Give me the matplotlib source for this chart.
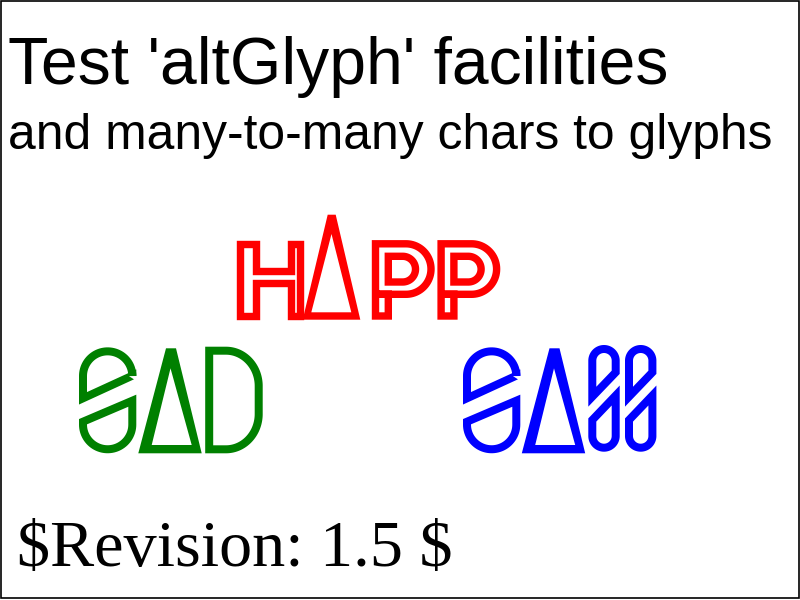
import numpy as np
import matplotlib.pyplot as plt
from matplotlib.path import Path
from matplotlib.patches import PathPatch, Rectangle

# canvas is 800x600 px, axes use pixel units (y down)
W, H = 800, 600

title = "Test 'altGlyph' facilities"
subtitle = "and many-to-many chars to glyphs"
revision = "$Revision: 1.5 $"

red = '#ff0000'
green = '#008000'
blue = '#0000ff'

# --- glyph outlines (pixel coords) ---
# 'H' stroked outline
h_outline = [(240, 243.7), (255.7, 243.7), (255.7, 271.3), (290.7, 271.3),
             (290.7, 243.7), (300.3, 243.7), (300.3, 316), (290.7, 316),
             (290.7, 283), (255.7, 283), (255.7, 316), (240, 316)]
# 'P': stem + bowl, bowl given as (cx, cy, rx, ry)
p_outer_stem = [(375.5, 294.3), (388.3, 294.3), (388.3, 316), (375.5, 316), (375.5, 243.8)]
p_outer_bowl = (406, 269.05, 25, 25.25)
p_counter_stem = [(402.7, 282), (388.3, 282), (388.3, 256.3)]
p_counter_bowl = (402.7, 269.15, 12.8, 12.85)
p_shift = [0, 65.6]

# red 'A' (delta) outer / inner contours
a_red_outer = [(302.7, 319.7), (327.7, 214.7), (335.7, 214.7), (360.3, 319.7)]
a_red_inner = [(311.3, 312.3), (331.5, 234), (351.3, 312.3)]

# green/blue wide 'S': upper loop + lower loop
s_left, s_right = 83, 132.3
s_top_arc_cy, s_bot_arc_cy = 376, 424.6
s_upper_diag = [(132.3, 375.7), (83, 398.3)]
s_lower_diag = [(83, 421.7), (132.3, 400.7)]

# green delta
a_green_outer = [(138.3, 453.3), (166, 348.3), (176, 348.3), (201.7, 453.3)]
a_green_inner = [(151.7, 445), (170.5, 368.3), (191.7, 445)]

# green 'D'
d_left, d_right, d_top, d_bot = 209.2, 258.7, 350.7, 449.3
d_corner = (226, 32.7, 35.3)   # x where curve starts, rx, ry

# narrow 'S' (ss glyph)
ns_left, ns_right = 592.3, 615.7
ns_top_arc_cy, ns_bot_arc_cy = 360.7, 436
ns_upper_diag = [(615.7, 372.3), (592.3, 396.7)]
ns_lower_diag = [(592.3, 420), (615.7, 395.5)]
ns_shift = [0, 36.7]

sass_shift = 384


def arc(cx, cy, rx, ry, a0, a1, n=48):
    t = np.radians(np.linspace(a0, a1, n))
    return list(zip(cx + rx * np.cos(t), cy + ry * np.sin(t)))


def closed(pts, dx=0.0):
    pts = [(x + dx, y) for x, y in pts]
    codes = [Path.MOVETO] + [Path.LINETO] * (len(pts) - 1) + [Path.CLOSEPOLY]
    return Path(pts + [pts[0]], codes)


def stroke(ax, pts, color, lw_px, dx=0.0):
    ax.add_patch(PathPatch(closed(pts, dx), fill=False, edgecolor=color,
                           lw=lw_px * 72 / 100, joinstyle='miter', capstyle='butt'))


def ring(ax, outer, inner, color, dx=0.0):
    o = [(x + dx, y) for x, y in outer]
    i = [(x + dx, y) for x, y in inner][::-1]
    verts = o + [o[0]] + i + [i[0]]
    codes = ([Path.MOVETO] + [Path.LINETO] * (len(o) - 1) + [Path.CLOSEPOLY] +
             [Path.MOVETO] + [Path.LINETO] * (len(i) - 1) + [Path.CLOSEPOLY])
    ax.add_patch(PathPatch(Path(verts, codes), facecolor=color, edgecolor='none'))


def wide_s(ax, color, dx):
    cx = (s_left + s_right) / 2
    r = (s_right - s_left) / 2
    up = arc(cx, s_top_arc_cy, r, r, 180, 360) + s_upper_diag
    lo = arc(cx, s_bot_arc_cy, r, r, 0, 180) + s_lower_diag
    stroke(ax, up, color, 8, dx)
    stroke(ax, lo, color, 8, dx)


def narrow_s(ax, color, dx):
    cx = (ns_left + ns_right) / 2
    r = (ns_right - ns_left) / 2
    up = arc(cx, ns_top_arc_cy, r, r, 180, 360) + ns_upper_diag
    lo = arc(cx, ns_bot_arc_cy, r, r, 0, 180) + ns_lower_diag
    stroke(ax, up, color, 8, dx)
    stroke(ax, lo, color, 8, dx)


fig = plt.figure(figsize=(8, 6), dpi=100)
ax = fig.add_axes([0, 0, 1, 1])
ax.set_xlim(0, W)
ax.set_ylim(H, 0)
ax.axis('off')

ax.add_patch(Rectangle((1.2, 1.2), W - 2.4, H - 3.2, fill=False,
                       edgecolor='black', lw=1.2))

ax.text(8, 84.3, title, fontsize=47.6, family='Liberation Sans', va='baseline')
ax.text(8.5, 149, subtitle, fontsize=35.8, family='Liberation Sans', va='baseline')
ax.text(17, 565.7, revision, fontsize=47.6, family='Liberation Serif',
        va='baseline', parse_math=False)

# HAPP
stroke(ax, h_outline, red, 7.4)
ring(ax, a_red_outer, a_red_inner, red)
for dx in p_shift:
    cx, cy, rx, ry = p_outer_bowl
    outer = arc(cx, cy, rx, ry, -90, 90) + p_outer_stem
    cx, cy, rx, ry = p_counter_bowl
    counter = [(388.3, 256.3)] + arc(cx, cy, rx, ry, -90, 90) + p_counter_stem[:2]
    stroke(ax, outer, red, 7.4, dx)
    stroke(ax, counter, red, 7.4, dx)

# SAD
wide_s(ax, green, 0)
ring(ax, a_green_outer, a_green_inner, green)
x0, rx, ry = d_corner
d_pts = ([(d_left, d_top)] + arc(x0, d_top + ry, rx, ry, -90, 0) +
         arc(x0, d_bot - ry, rx, ry, 0, 90) + [(d_left, d_bot)])
stroke(ax, d_pts, green, 8)

# SASS
wide_s(ax, blue, sass_shift)
ring(ax, a_green_outer, a_green_inner, blue, sass_shift - 0.5)
for dx in ns_shift:
    narrow_s(ax, blue, dx)

fig.savefig('out.png', dpi=100)
